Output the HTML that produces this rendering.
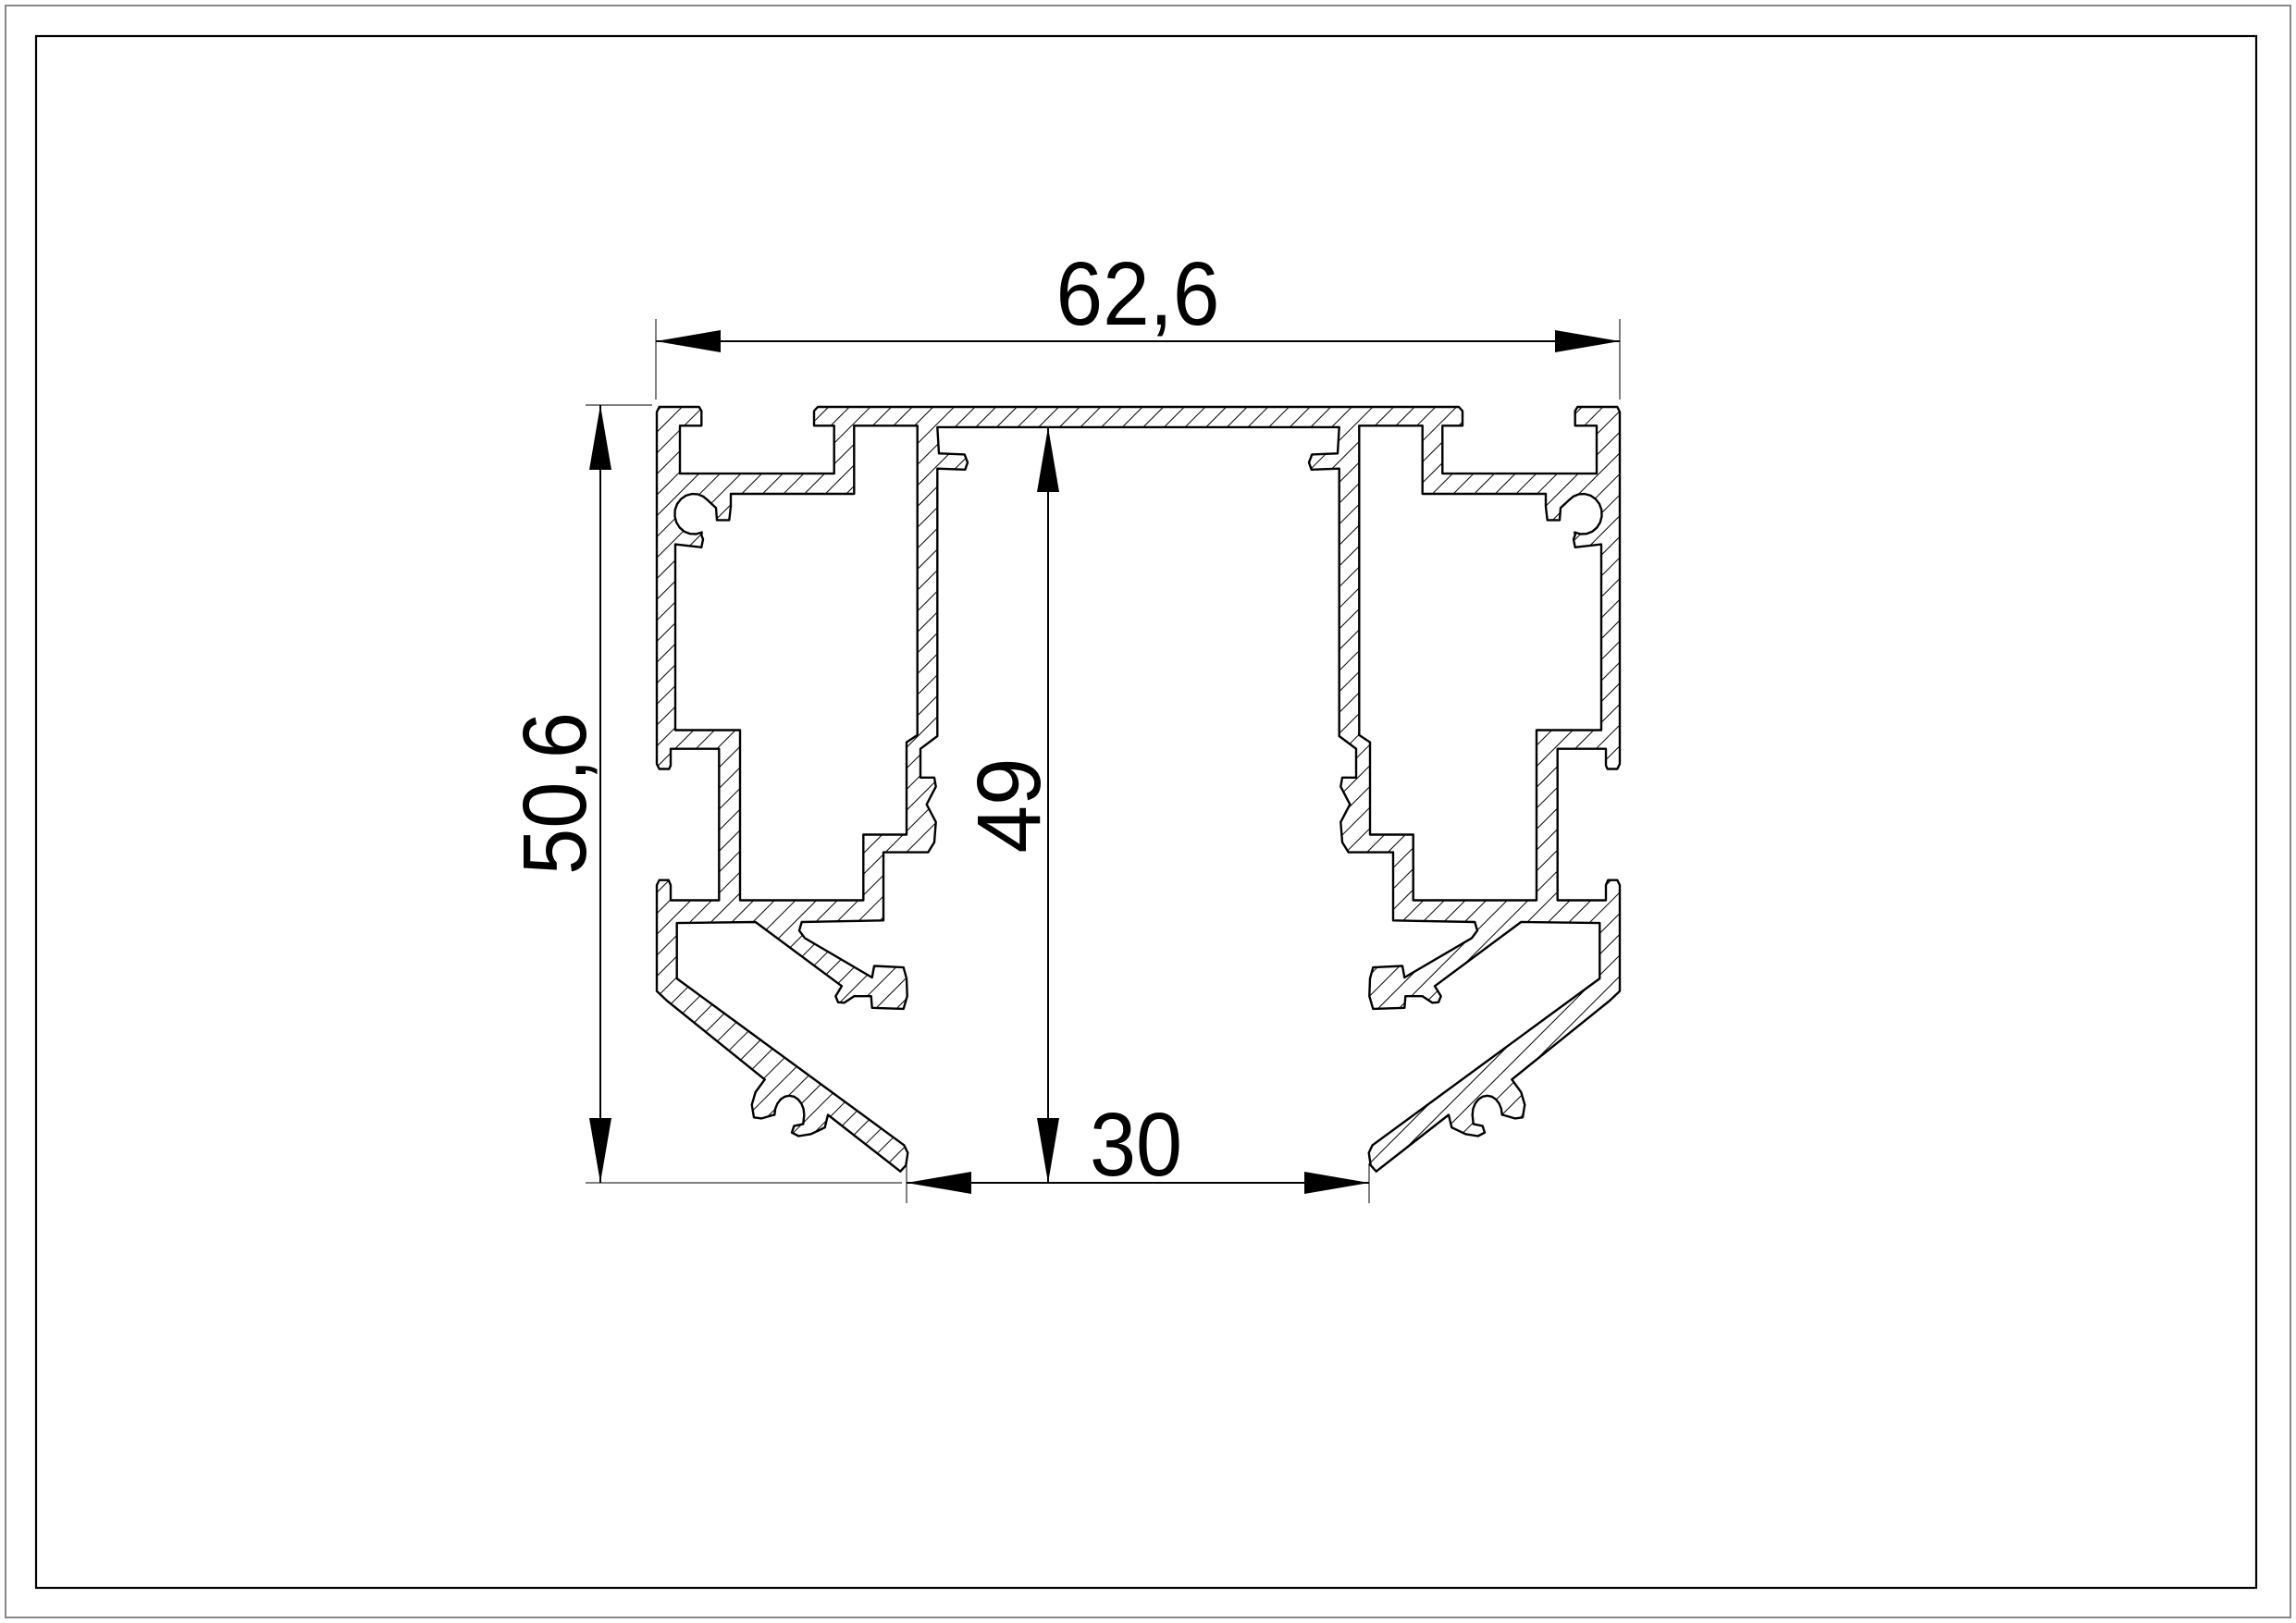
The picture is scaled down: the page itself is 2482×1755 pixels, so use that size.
<!DOCTYPE html>
<html><head><meta charset="utf-8"><style>
html,body{margin:0;padding:0;background:#fff;}
svg{display:block;}
text{font-family:"Liberation Sans",sans-serif;fill:#000;}
</style></head><body>
<svg id="s" width="2482" height="1755" viewBox="0 0 2482 1755" xmlns="http://www.w3.org/2000/svg">
<defs>
<pattern id="h" patternUnits="userSpaceOnUse" width="16" height="16" patternTransform="rotate(45)">
<line x1="0" y1="0" x2="0" y2="16" stroke="#000" stroke-width="2"/>
</pattern>
</defs>
<rect x="6" y="6" width="2470" height="1743" fill="none" stroke="#888" stroke-width="2"/>
<rect x="39" y="39" width="2400" height="1678" fill="none" stroke="#000" stroke-width="2.2"/>
<path id="prof" fill="url(#h)" fill-rule="evenodd" stroke="#000" stroke-width="2.4" stroke-linejoin="round"/>

<line x1="709" y1="345" x2="709" y2="432" stroke="#000" stroke-width="1"/>
<line x1="1751" y1="345" x2="1751" y2="432" stroke="#000" stroke-width="1"/>
<line x1="709" y1="369" x2="1751" y2="369" stroke="#000" stroke-width="2"/>
<polygon points="709,369 779,357 779,381" fill="#000"/>
<polygon points="1751,369 1681,357 1681,381" fill="#000"/>
<text x="1230" y="351" font-size="97" text-anchor="middle" textLength="177" lengthAdjust="spacingAndGlyphs">62,6</text>

<line x1="633" y1="438" x2="705" y2="438" stroke="#000" stroke-width="1"/>
<line x1="633" y1="1279" x2="975" y2="1279" stroke="#000" stroke-width="1"/>
<line x1="649" y1="438" x2="649" y2="1279" stroke="#000" stroke-width="2"/>
<polygon points="649,438 637,508 661,508" fill="#000"/>
<polygon points="649,1279 637,1209 661,1209" fill="#000"/>
<text transform="translate(633,858) rotate(-90)" x="0" y="0" font-size="97" text-anchor="middle" textLength="176" lengthAdjust="spacingAndGlyphs">50,6</text>

<line x1="1133" y1="462" x2="1133" y2="1279" stroke="#000" stroke-width="2"/>
<polygon points="1133,462 1121,532 1145,532" fill="#000"/>
<polygon points="1133,1279 1121,1209 1145,1209" fill="#000"/>
<text transform="translate(1124,871) rotate(-90)" x="0" y="0" font-size="97" text-anchor="middle" textLength="103" lengthAdjust="spacingAndGlyphs">49</text>

<line x1="980" y1="1258" x2="980" y2="1301" stroke="#000" stroke-width="1"/>
<line x1="1480" y1="1258" x2="1480" y2="1301" stroke="#000" stroke-width="1"/>
<line x1="980" y1="1279" x2="1480" y2="1279" stroke="#000" stroke-width="2"/>
<polygon points="980,1279 1050,1267 1050,1291" fill="#000"/>
<polygon points="1480,1279 1410,1267 1410,1291" fill="#000"/>
<text x="1228" y="1271" font-size="97" text-anchor="middle" textLength="100" lengthAdjust="spacingAndGlyphs">30</text>
</svg>
<script>
(function(){
function arc(cx,cy,rx,ry,a0,a1,n){var r=[];for(var i=0;i<=n;i++){var a=(a0+(a1-a0)*i/n)*Math.PI/180;r.push([cx+rx*Math.cos(a),cy+ry*Math.sin(a)]);}return r;}
var C=1621.5;
var L=[[C,38],[582,38],[570,46],[570,75],[635,75],[635,170],[135,170],[135,75],[205,75],[205,46],[197,38],[68,38],[60,48],
[60,745],[68,755],[100,755],[105,748],[105,715],[262,715],[262,1015],[105,1015],[105,985],[98,975],[68,975],[60,985],
[60,1195],[95,1215],[410,1370],[380,1395],[368,1420],[375,1445],[400,1447],[440,1440]]
.concat(arc(490,1440,48,38,180,360,10))
.concat([[535,1458],[505,1462],[498,1475],[520,1482],[560,1478],[605,1465],[615,1440],[850,1552],[868,1540],[874,1515],[862,1500],
[125,1170],[125,1060],[380,1058],[660,1185],[640,1205],[648,1217],[668,1218],[700,1205],[755,1205],[758,1228],[860,1230],[872,1205],[870,1170],[860,1148],[765,1145],[758,1168],[540,1090],[522,1075],[530,1058],
[795,1055],[795,920],[940,920],[960,900],[965,860],[935,825],[965,790],[960,772],[915,772],[915,715],[970,690],[970,160],[1060,162],[1068,148],[1058,132],[975,130],[970,78],[C,78]]);
var H=[[300,210],[700,210],[700,75],[905,75],[905,688],[870,702],[870,885],[730,885],[730,1015],[330,1015],[330,678],[120,678],[120,310],[205,316],[210,300],[205,292]]
.concat(arc(180,250,62,40,65,318,14))
.concat([[252,238],[255,262],[295,262],[300,235]]);
function M(p){return [2*C-p[0],p[1]];}
function T(p){return (690+p[0]/3).toFixed(1)+','+(419.3+p[1]*0.546).toFixed(1);}
function d(pts){return 'M'+pts.map(T).join(' L')+' Z ';}
var outer=L.concat(L.slice().reverse().map(M));
var path=d(outer)+d(H)+d(H.map(M));
document.getElementById('prof').setAttribute('d',path);
})();
</script>
</body></html>
